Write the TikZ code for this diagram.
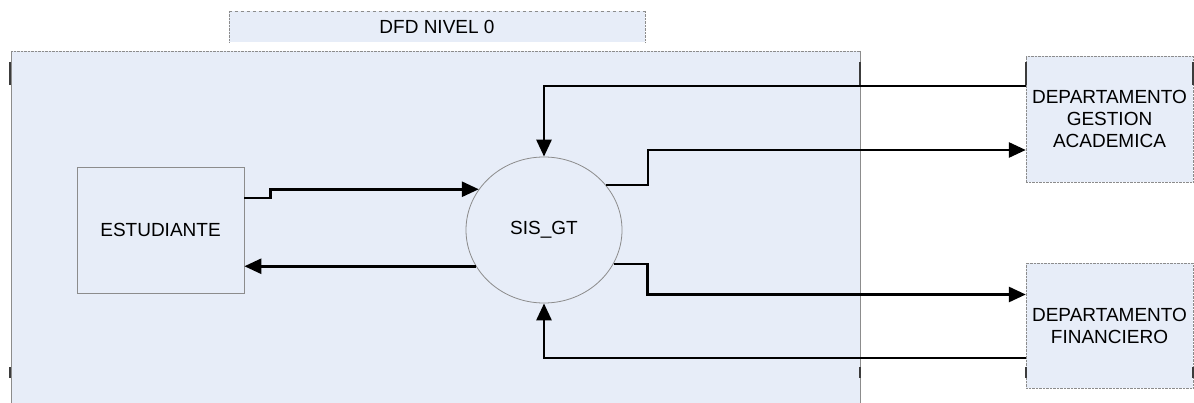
\documentclass[tikz,border=0pt]{standalone}
\usepackage{fontspec}
\setmainfont{Liberation Sans}
\usetikzlibrary{arrows.meta,shapes.geometric}
\definecolor{panel}{RGB}{231,237,248}
\definecolor{edge}{RGB}{140,140,140}
\definecolor{mark}{RGB}{60,60,60}
\begin{document}
\begin{tikzpicture}[x=1pt,y=-1pt,
	every node/.style={font=\fontsize{19}{22}\selectfont},
	extbox/.style={draw=edge,fill=panel,line width=0.8pt,minimum width=167pt,minimum height=126pt,inner sep=0pt},
	deptbox/.style={draw=edge,densely dotted,fill=panel,minimum width=167pt,minimum height=126pt,align=center,inner sep=0pt},
	proc/.style={ellipse,draw=edge,fill=panel,line width=0.8pt,minimum width=156pt,minimum height=146pt,inner sep=0pt},
	flow/.style={line width=2.8pt,-{Triangle[length=17pt,width=15pt]}},
	tick/.style={line width=1.6pt,draw=mark}]
	\useasboundingbox (0,0) rectangle (1194,403);
	\fill [panel] (11,51) rectangle (860,403);
	\draw [edge,densely dotted] (11,51) -- (860,51);
	\draw [edge,line width=0.9pt] (11,51) -- (11,403);
	\draw [edge] (860,51) -- (860,403);
	\node [fill=panel,minimum width=416pt,minimum height=31pt,inner sep=0pt] (title) at (437,26.5) {DFD NIVEL 0};
	\draw [edge,dashed] (title.north west) -- (title.north east);
	\draw [edge,densely dotted] (title.north west) -- (title.south west);
	\draw [edge,densely dotted] (title.north east) -- (title.south east);
	\node [extbox] (est) at (160.5,230) {ESTUDIANTE};
	\node [proc] (sis) at (544,230) {SIS\_GT};
	\node [deptbox] (acad) at (1109.5,119) {DEPARTAMENTO\\GESTION\\ACADEMICA};
	\node [deptbox,minimum height=125pt] (fin) at (1109.5,325.5) {DEPARTAMENTO\\FINANCIERO};
	\foreach \x in {10,860,1026,1193} {
		\draw [tick] (\x,62) -- (\x,85);
		\draw [tick] (\x,367) -- (\x,378);
	}
	\draw [flow] ([yshift=32pt]est.east) -- ++(26,0) |- (sis.148.5);
	\draw [flow] (sis.208.8) -- (sis.208.8 -| est.east);
	\draw [flow] (sis.36.2) -- ++(42,0) |- ([yshift=-31pt]acad.west);
	\draw [flow] (sis.-26.2) -- ++(34,0) |- ([yshift=31pt]fin.west);
	\draw [flow] ([yshift=33pt]acad.west) -| (sis.north);
	\draw [flow] ([yshift=-32.5pt]fin.west) -| (sis.south);
\end{tikzpicture}
\end{document}
